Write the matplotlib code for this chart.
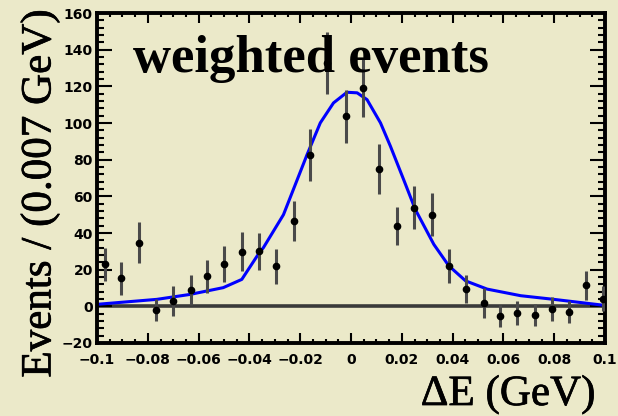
import matplotlib.pyplot as plt
import matplotlib.patheffects as pe
from matplotlib.ticker import MultipleLocator

# measured points: Delta E (GeV), weighted events per bin, error
delta_e = [-0.0969, -0.0906, -0.0835, -0.0769, -0.0701, -0.0629, -0.0567, -0.0499,
           -0.0428, -0.0361, -0.0295, -0.0226, -0.0161, -0.0095, -0.0020, 0.0046,
           0.0112, 0.0181, 0.0247, 0.0320, 0.0385, 0.0451, 0.0523, 0.0586,
           0.0655, 0.0724, 0.0793, 0.0858, 0.0927, 0.0994]
events = [22.9, 15.3, 34.7, -2.0, 2.9, 8.9, 16.5, 23.3, 29.8, 30.1, 21.8, 46.5,
          82.5, 132.8, 103.7, 119.2, 75.0, 43.8, 53.8, 50.1, 22.0, 9.3, 1.6, -5.3,
          -3.8, -4.7, -1.3, -3.1, 11.4, 4.2]
errors = [9.1, 8.9, 11.2, 6.0, 8.0, 8.3, 9.0, 9.8, 10.5, 10.0, 9.5, 10.9, 14.1,
          16.7, 14.5, 15.8, 13.6, 10.5, 11.8, 11.8, 9.3, 7.7, 8.2, 5.8, 6.5, 6.0,
          6.5, 6.0, 7.9, 6.7]

# fit curve
fit_x = [-0.100, -0.0765, -0.0634, -0.0503, -0.0430, -0.0361, -0.0345, -0.0266,
         -0.0173, -0.0121, -0.0069, -0.0016, 0.0024, 0.0063, 0.0116, 0.0155,
         0.0207, 0.0253, 0.0326, 0.0385, 0.0451, 0.0536, 0.0668, 0.0799, 0.100]
fit_y = [1.1, 3.8, 6.5, 10.2, 14.7, 29.3, 32.0, 50.0, 82.8, 100.1, 111.0, 116.8,
         116.5, 112.8, 100.1, 87.4, 69.2, 52.9, 33.8, 22.1, 13.9, 9.4, 5.8, 3.8, 0.5]

xticks = [-0.1, -0.08, -0.06, -0.04, -0.02, 0, 0.02, 0.04, 0.06, 0.08, 0.1]
xticklabels = ['\u22120.1', '\u22120.08', '\u22120.06', '\u22120.04', '\u22120.02', '0',
               '0.02', '0.04', '0.06', '0.08', '0.1']
yticks = [-20, 0, 20, 40, 60, 80, 100, 120, 140, 160]

bg = '#ebe9c9'
fig = plt.figure(figsize=(6.18, 4.16), dpi=100, facecolor=bg)
ax = fig.add_axes([0.157, 0.1755, 0.822, 0.793], facecolor=bg)

ax.axhline(0, color='#3a3a3a', lw=2.6, zorder=1)
ax.plot(fit_x, fit_y, color='#0000ff', lw=2.2, zorder=2)
ax.errorbar(delta_e, events, yerr=errors, fmt='o', color='black', ms=4.5,
            ecolor='#4a4a4a', elinewidth=2.2, capsize=0, zorder=3)

ax.set_xlim(-0.1, 0.1)
ax.set_ylim(-20, 160)
ax.set_xticks(xticks)
ax.set_xticklabels(xticklabels)
ax.set_yticks(yticks)
ax.xaxis.set_minor_locator(MultipleLocator(0.005))
ax.yaxis.set_minor_locator(MultipleLocator(4))
ax.tick_params(which='both', direction='in', top=True, right=True, width=1.5,
               labelsize=10)
ax.tick_params(axis='x', which='major', length=7, pad=7)
ax.tick_params(axis='x', which='minor', length=3)
ax.tick_params(axis='y', which='major', length=10.5, pad=3)
ax.tick_params(axis='y', which='minor', length=5)
for lab in ax.get_xticklabels() + ax.get_yticklabels():
    lab.set_fontweight('bold')
for s in ax.spines.values():
    s.set_linewidth(2.8)

# slightly heavier serif labels
thick = [pe.withStroke(linewidth=0.5, foreground='black')]
fig.text(0.215, 0.827, 'weighted events', family='Liberation Serif',
         fontweight='bold', fontsize=38, va='baseline', ha='left')
fig.text(0.963, 0.0264, '\u0394E (GeV)', family='Liberation Serif',
         fontsize=31, va='baseline', ha='right', path_effects=thick)
fig.text(0.065, 0.976, 'Events / (0.007 GeV)', family='Liberation Serif',
         fontsize=31, rotation=90, va='top', ha='center', path_effects=thick)

fig.savefig('out.png', dpi=100, facecolor=bg)
